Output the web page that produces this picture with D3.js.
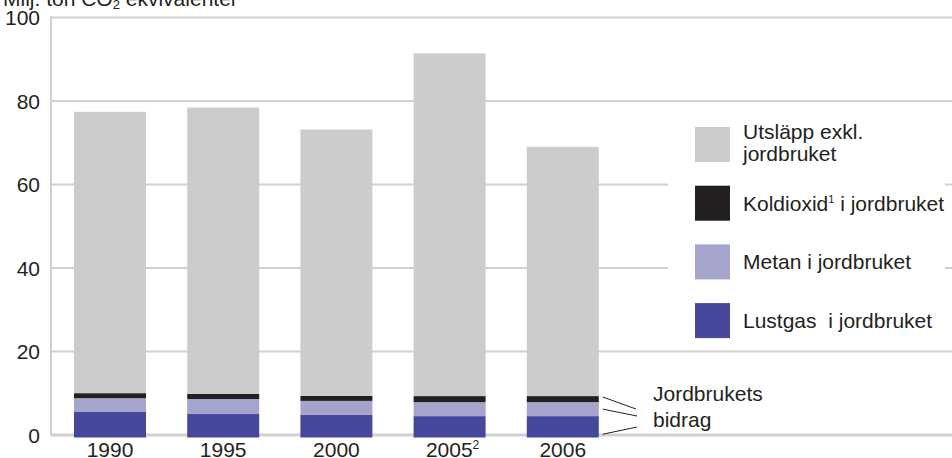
<!DOCTYPE html>
<html>
<head>
<meta charset="utf-8">
<script src="https://cdn.jsdelivr.net/npm/d3@7"></script>
<style>
  body { margin: 0; background: #fff; }
  svg { display: block; font-family: "Liberation Sans", Arial, sans-serif; }
  text { fill: #231f20; }
</style>
</head>
<body>
<svg id="chart" width="952" height="458"></svg>
<script>
// ---- data ----
const years = ["1990", "1995", "2000", "2005", "2006"];
const yearSup = ["", "", "", "2", ""];
const lustgas = [5.4, 4.9, 4.7, 4.4, 4.4];
const metan = [3.3, 3.6, 3.35, 3.35, 3.35];
const koldioxid = [1.2, 1.2, 1.2, 1.45, 1.45];
const utslapp = [67.4, 68.6, 63.8, 82.1, 59.7];
const yTicks = [0, 20, 40, 60, 80, 100];
const seriesKeys = ["lustgas", "metan", "koldioxid", "utslapp"];
const seriesColors = { lustgas: "#46489b", metan: "#a4a4cc", koldioxid: "#231f20", utslapp: "#cccccc" };
const legendItems = [
  { key: "utslapp", lines: ["Utsläpp exkl.", "jordbruket"] },
  { key: "koldioxid", parts: ["Koldioxid", "1", " i jordbruket"] },
  { key: "metan", lines: ["Metan i jordbruket"] },
  { key: "lustgas", lines: ["Lustgas\u00A0\u00A0i jordbruket"] }
];

const table = years.map((yr, i) => ({
  year: yr, lustgas: lustgas[i], metan: metan[i], koldioxid: koldioxid[i], utslapp: utslapp[i]
}));

const svg = d3.select("#chart");
const W = 952;
const axisX = 51;

const y = d3.scaleLinear().domain([0, 100]).range([434.5, 17]);
const x = d3.scaleBand().domain(years).range([53.4, 619.4]).paddingInner(0.364).paddingOuter(0.182);

// gridlines + tick labels
const yAxis = d3.axisLeft(y).tickValues(yTicks).tickSize(-(W - axisX)).tickPadding(11).tickFormat(d3.format("d"));
const gAxis = svg.append("g").attr("transform", `translate(${axisX},0)`).call(yAxis);
gAxis.select(".domain").remove();
gAxis.selectAll(".tick line")
  .attr("stroke", "#d0d0d0")
  .attr("stroke-width", d => d === 0 ? 2.8 : 1.8);
gAxis.selectAll(".tick text")
  .attr("font-size", 21).attr("fill", "#231f20").attr("dy", "0.38em")
  .attr("font-family", '"Liberation Sans", Arial, sans-serif');

// vertical axis line
svg.append("line")
  .attr("x1", axisX).attr("x2", axisX)
  .attr("y1", y(100) - 1).attr("y2", y(0) + 1.4)
  .attr("stroke", "#d0d0d0").attr("stroke-width", 2);

// legend background box
const legX = 668, legW = 277;
svg.append("rect")
  .attr("x", legX).attr("y", y(80) + 2)
  .attr("width", legW).attr("height", y(20) - y(80) - 3)
  .attr("fill", "#fff");

// stacked bars
const stack = d3.stack().keys(seriesKeys)(table);
const baseExtra = 3;
svg.append("g").selectAll("g")
  .data(stack).join("g")
  .attr("fill", d => seriesColors[d.key])
  .selectAll("rect")
  .data(d => d).join("rect")
  .attr("x", d => x(d.data.year))
  .attr("width", x.bandwidth())
  .attr("y", d => y(d[1]))
  .attr("height", d => (d[0] === 0 ? y(0) + baseExtra : y(d[0])) - y(d[1]));

// year labels
const xl = svg.append("g");
years.forEach((yr, i) => {
  const t = xl.append("text")
    .attr("x", x(yr) + x.bandwidth() / 2 + (yearSup[i] ? 3 : 0))
    .attr("y", 457)
    .attr("text-anchor", "middle")
    .attr("font-size", 21);
  t.append("tspan").text(yr);
  if (yearSup[i]) t.append("tspan").attr("font-size", 12).attr("dy", -8).text(yearSup[i]);
});

// title
const title = svg.append("text").attr("x", 3).attr("y", 6).attr("font-size", 21);
title.append("tspan").text("Milj. ton CO");
title.append("tspan").attr("font-size", 13).attr("dy", 3).text("2");
title.append("tspan").attr("dy", -3).text(" ekvivalenter");

// legend
const sw = 35, legStep = 58.7, legTop = 127, legTextX = 743;
legendItems.forEach((it, i) => {
  const sy = legTop + i * legStep;
  svg.append("rect")
    .attr("x", 695).attr("y", sy).attr("width", sw).attr("height", sw)
    .attr("fill", seriesColors[it.key]);
  if (it.parts) {
    const t = svg.append("text").attr("x", legTextX).attr("y", sy + sw / 2 + 7.5).attr("font-size", 21);
    t.append("tspan").text(it.parts[0]);
    t.append("tspan").attr("font-size", 11).attr("dy", -8).text(it.parts[1]);
    t.append("tspan").attr("dy", 8).text(it.parts[2]);
  } else if (it.lines.length === 2) {
    it.lines.forEach((ln, j) => {
      svg.append("text").attr("x", legTextX).attr("y", 139 + j * 22).attr("font-size", 21).text(ln);
    });
  } else {
    svg.append("text").attr("x", legTextX).attr("y", sy + sw / 2 + 7.5).attr("font-size", 21).text(it.lines[0]);
  }
});

// "Jordbrukets bidrag" annotation with leader lines to the layers of the last bar
const last = table[table.length - 1];
const lastX = x(last.year) + x.bandwidth();
const layerPos = [
  { lo: last.lustgas + last.metan, hi: last.lustgas + last.metan + last.koldioxid, f: 0.85, end: [636, 409] },
  { lo: last.lustgas, hi: last.lustgas + last.metan, f: 0.5, end: [637, 416] },
  { lo: -0.7, hi: last.lustgas, f: 0.15, end: [637, 427] }
];
layerPos.forEach(l => {
  svg.append("line")
    .attr("x1", lastX + 4).attr("y1", y(l.lo + (l.hi - l.lo) * l.f))
    .attr("x2", l.end[0]).attr("y2", l.end[1])
    .attr("stroke", "#231f20").attr("stroke-width", 1);
});
svg.append("text").attr("x", 653).attr("y", 401).attr("font-size", 21).text("Jordbrukets");
svg.append("text").attr("x", 653).attr("y", 427).attr("font-size", 21).text("bidrag");
</script>
</body>
</html>
